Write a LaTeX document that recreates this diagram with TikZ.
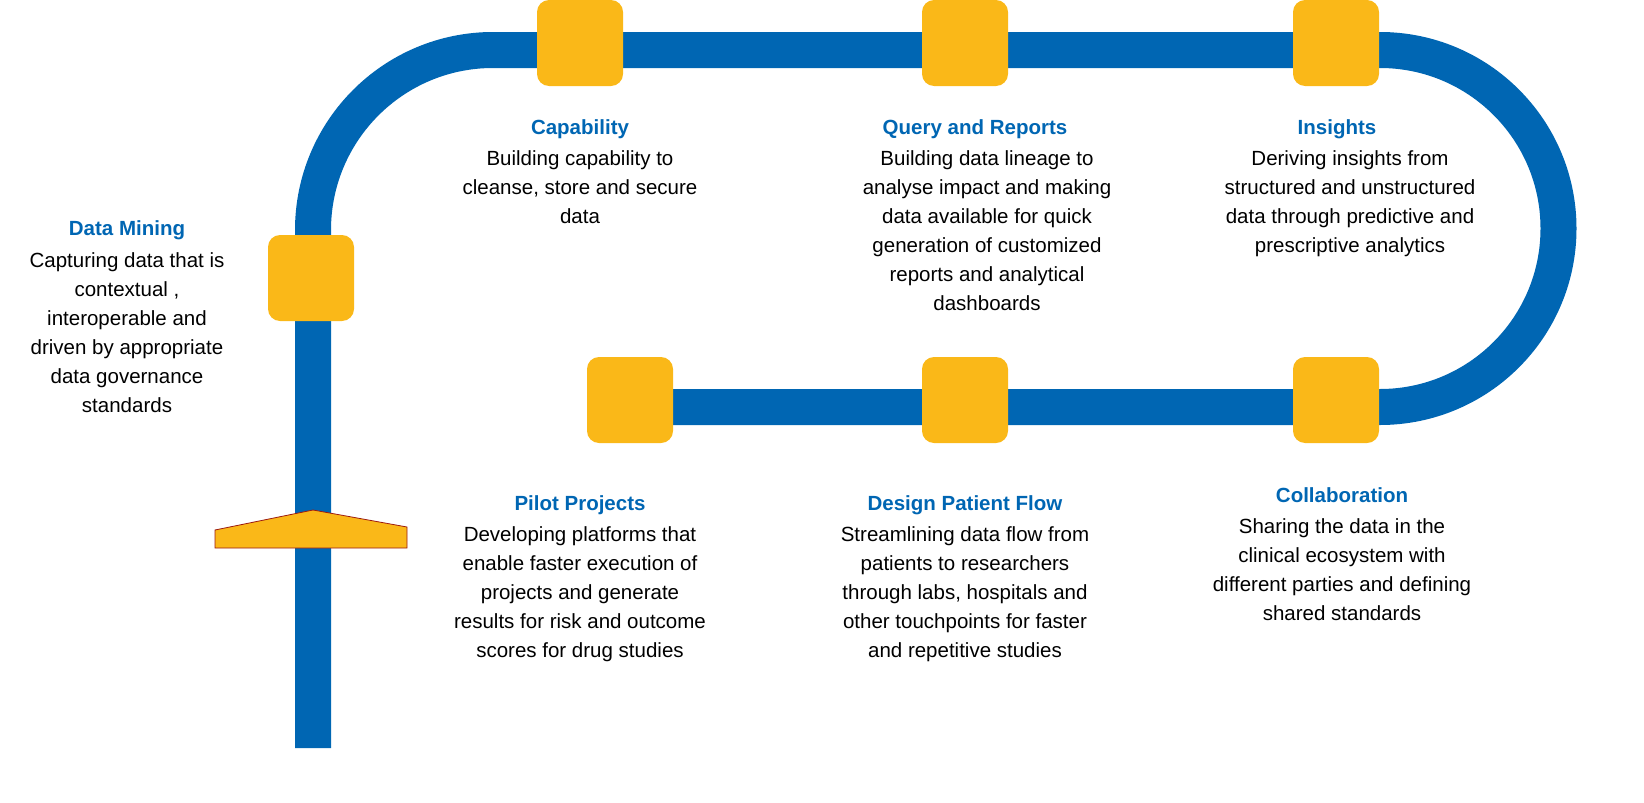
\documentclass[tikz,border=0pt]{standalone}
\usepackage{fontspec}
\setmainfont{Liberation Sans}
\definecolor{tblue}{HTML}{0066B3}
\definecolor{tyel}{HTML}{FAB818}
\definecolor{tred}{HTML}{9C1A10}
\begin{document}
\begin{tikzpicture}[x=1pt,y=-1pt,
  sq/.style={fill=tyel,rounded corners=12pt,minimum width=86pt,minimum height=86pt,inner sep=0pt},
  ttl/.style={font=\fontsize{20.5}{29}\selectfont\bfseries,text=tblue,anchor=base,inner sep=0pt},
  bdy/.style={font=\fontsize{20.5}{29}\selectfont,align=center,anchor=north,inner sep=0pt}]
\useasboundingbox (0,0) rectangle (1644,803);
\draw[tblue,line width=36pt] (313,748) -- (313,230) arc[start angle=180,end angle=90,radius=180pt] -- (1380,50)
  arc[start angle=90,end angle=-90,radius=178.5pt] -- (630,407);
\node[sq] (s1) at (580,43) {};
\node[sq] (s2) at (965,43) {};
\node[sq] (s3) at (1336,43) {};
\node[sq] (s0) at (311,278) {};
\node[sq] (s4) at (630,400) {};
\node[sq] (s5) at (965,400) {};
\node[sq] (s6) at (1336,400) {};
\draw[tred,fill=tyel,line width=0.8pt] (215,530) -- (313,510) -- (407,527) -- (407,548) -- (215,548) -- cycle;
\node[ttl] (t0) at (127,235) {Data Mining};
\node[bdy] (b0) at (127,252) {Capturing data that is\\contextual ,\\interoperable and\\driven by appropriate\\data governance\\standards};
\node[ttl] (t1) at (580,134) {Capability};
\node[bdy] (b1) at (580,150) {Building capability to\\cleanse, store and secure\\data};
\node[ttl] (t2) at (975,134) {Query and Reports};
\node[bdy] (b2) at (987,150) {Building data lineage to\\analyse impact and making\\data available for quick\\generation of customized\\reports and analytical\\dashboards};
\node[ttl] (t3) at (1337,134) {Insights};
\node[bdy] (b3) at (1350,150) {Deriving insights from\\structured and unstructured\\data through predictive and\\prescriptive analytics};
\node[ttl] (t4) at (580,510) {Pilot Projects};
\node[bdy] (b4) at (580,526) {Developing platforms that\\enable faster execution of\\projects and generate\\results for risk and outcome\\scores for drug studies};
\node[ttl] (t5) at (965,510) {Design Patient Flow};
\node[bdy] (b5) at (965,526) {Streamlining data flow from\\patients to researchers\\through labs, hospitals and\\other touchpoints for faster\\and repetitive studies};
\node[ttl] (t6) at (1342,502) {Collaboration};
\node[bdy] (b6) at (1342,518) {Sharing the data in the\\clinical ecosystem with\\different parties and defining\\shared standards};
\end{tikzpicture}
\end{document}
